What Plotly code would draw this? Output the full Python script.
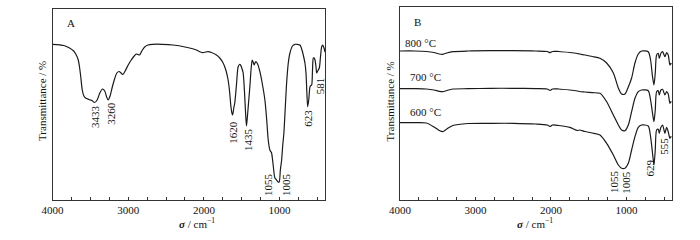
import plotly.graph_objects as go

# ---------- Panel A data (wavenumber, transmittance in arbitrary units) ----------
wn_a = [4000, 3850, 3775, 3720, 3686, 3660, 3643, 3625, 3607, 3585, 3563, 3520, 3480, 3444,
        3410, 3375, 3340, 3310, 3285, 3265, 3240, 3210, 3180, 3150, 3120, 3095, 3070, 3040,
        3000, 2960, 2920, 2893, 2870, 2849, 2820, 2783, 2740, 2673, 2550, 2408, 2250, 2100,
        2054, 2011, 1975, 1945, 1900, 1834, 1790, 1746, 1710, 1680, 1660, 1645, 1630, 1620,
        1605, 1592, 1570, 1548, 1530, 1516, 1495, 1481, 1465, 1450, 1437, 1420, 1405, 1393,
        1375, 1362, 1350, 1336, 1325, 1313, 1290, 1260, 1230, 1194, 1170, 1150, 1128, 1106,
        1085, 1062, 1040, 1020, 1005, 990, 973, 958, 943, 925, 907, 885, 863, 830, 797, 760,
        731, 700, 687, 665, 651, 640, 629, 615, 598, 586, 576, 565, 554, 543, 532, 520, 510,
        497, 475, 460, 444, 430, 413, 400]
ypx_a = [44.3, 45.5, 48, 51, 55, 60, 67, 78, 90, 96, 98, 99.5, 100.5, 102.5,
         100, 93, 89, 91, 97, 100, 96, 87, 79, 73, 71.5, 73, 74.5, 71,
         65, 60, 56, 54, 54.5, 55, 51, 47, 45, 44.3, 44.3, 45, 47, 50,
         51.7, 52.7, 52, 51.7, 52.5, 55, 58, 63, 70, 80, 92, 105, 113, 115,
         108, 103, 85, 67, 64.5, 65, 69, 73, 90, 112, 126, 112, 98, 87,
         68, 60, 62, 65, 63, 61.7, 64, 71.7, 83, 100, 120, 140, 150, 153,
         165, 178, 180, 182, 182, 170, 160, 145, 133, 108, 83, 63, 53, 46, 44.3, 44.5,
         45, 51, 55, 63, 73, 92, 106.7, 100, 86.7, 85.5, 85, 70, 58, 58, 60, 66, 73,
         71, 68, 57, 46.7, 45, 48, 52]
trans_a = [round(200 - v, 1) for v in ypx_a]

labels_a = ["3433", "3260", "1620", "1435", "1055", "1005", "623", "581"]
label_a_wn = [3439, 3230, 1619, 1417, 1153, 915, 629, 464]
label_a_t = [84, 87, 68, 60, 15, 15, 82, 114]

# ---------- Panel B data ----------
wn_b = [4000, 3800, 3650, 3550, 3480, 3433, 3380, 3300, 3100, 2800, 2500, 2200, 2050, 2011,
        1980, 1900, 1750, 1650, 1620, 1550, 1450, 1350, 1262, 1173, 1107, 1063, 1019, 975,
        931, 887, 843, 799, 711, 680, 654, 635, 618, 600, 578, 565, 543, 521, 490, 468, 446,
        424, 411, 400]
ypx_800 = [51, 51, 51.5, 52.5, 54, 54.3, 53, 51.7, 51, 50.7, 50.7, 51, 51.5, 52.7,
           51.5, 51.5, 52.5, 53.5, 54, 55, 56.5, 58.3, 63, 73, 88, 94, 94, 87,
           78, 63, 54, 51, 51.7, 60, 76.7, 85, 73.3, 55, 53.3, 58.3, 53.3, 51.7, 56.7, 52.7, 55,
           65, 63.3, 64]
ypx_700 = [88.7, 88.7, 89, 90, 91.3, 91.7, 90.5, 89, 88.7, 88.3, 88.3, 88.7, 89, 90.3,
           89, 89, 90, 91, 91.5, 92, 92.7, 93.3, 101.7, 115, 125, 130, 130.7, 125,
           111.7, 98.3, 91.7, 90, 90.7, 100, 113.3, 121.7, 110, 91.7, 90.7, 95, 90, 89.3, 95, 91.7, 94,
           103.3, 101.7, 102]
ypx_600 = [122.7, 122.7, 123, 127, 130.5, 131.7, 129, 125.5, 123.5, 123.3, 123.3, 124, 125, 126.5,
           125, 125.5, 127.3, 130.5, 130, 131.5, 133, 135, 143.3, 155, 165, 168.3, 168.3, 163.3,
           150, 136.7, 127.3, 125, 126, 136.7, 153.3, 165, 150, 130, 129.3, 133.3, 127.3, 125, 133.3, 127.3, 131.7,
           138.3, 136.7, 137]
trans_800 = [round(200 - v, 1) for v in ypx_800]
trans_700 = [round(200 - v, 1) for v in ypx_700]
trans_600 = [round(200 - v, 1) for v in ypx_600]

temp_labels = ["800 °C", "700 °C", "600 °C"]
temp_wn = [3722, 3662, 3662]
temp_t = [157, 123, 88]

labels_b = ["1055", "1005", "629", "555"]
label_b_wn = [1174, 1008, 688, 502]
label_b_t = [18.3, 18, 32.5, 53.3]

# x-axis ticks
major_ticks = [4000, 3000, 2000, 1000]
minor_ticks = [4000 - 250 * i for i in range(15)]

FONT = "Liberation Serif, Times New Roman, serif"
LINE = "#1a1a1a"
FRAME = "#333333"

fig = go.Figure()
fig.add_trace(go.Scatter(x=wn_a, y=trans_a, mode="lines", xaxis="x", yaxis="y",
                         line=dict(color=LINE, width=1.2, shape="spline", smoothing=0.7),
                         showlegend=False, hoverinfo="skip"))
for t in (trans_800, trans_700, trans_600):
    fig.add_trace(go.Scatter(x=wn_b, y=t, mode="lines", xaxis="x2", yaxis="y2",
                             line=dict(color=LINE, width=1.2, shape="spline", smoothing=0.7),
                             showlegend=False, hoverinfo="skip"))

W, H = 700, 240
def px(x):
    return x / W
def py(y):
    return 1 - y / H

xcommon = dict(range=[4000, 400], showline=True, mirror=True, linecolor=FRAME, linewidth=1.2,
               ticks="inside", ticklen=3, tickcolor=FRAME, tickmode="array",
               tickvals=major_ticks, ticktext=[str(v) for v in major_ticks],
               minor=dict(tickmode="array", tickvals=minor_ticks, ticks="inside", ticklen=3,
                          tickcolor=FRAME, showgrid=False),
               showgrid=False, zeroline=False, automargin=False,
               tickfont=dict(family=FONT, size=11, color="#111"))
ycommon = dict(showline=True, mirror=True, linecolor=FRAME, linewidth=1.2, ticks="",
               showticklabels=False, showgrid=False, zeroline=False, automargin=False)

fig.update_layout(
    width=W, height=H, margin=dict(l=0, r=0, t=0, b=0, autoexpand=False),
    paper_bgcolor="white", plot_bgcolor="white",
    font=dict(family=FONT, size=11, color="#111"),
    xaxis=dict(domain=[px(52.5), px(325)], anchor="y", **xcommon),
    yaxis=dict(domain=[py(200), py(9)], range=[0, 191], anchor="x", **ycommon),
    xaxis2=dict(domain=[px(400), px(671.7)], anchor="y2", **xcommon),
    yaxis2=dict(domain=[py(200), py(7)], range=[0, 193], anchor="x2", **ycommon),
)

C = dict(showarrow=False, xanchor="center", yanchor="middle")
ann = []
for txt, x, y in zip(labels_a, label_a_wn, label_a_t):
    ann.append(dict(text=txt, x=x, y=y, xref="x", yref="y", textangle=-90,
                    font=dict(family=FONT, size=11), **C))
for txt, x, y in zip(labels_b, label_b_wn, label_b_t):
    ann.append(dict(text=txt, x=x, y=y, xref="x2", yref="y2", textangle=-90,
                    font=dict(family=FONT, size=11), **C))
for txt, x, y in zip(temp_labels, temp_wn, temp_t):
    ann.append(dict(text=txt, x=x, y=y, xref="x2", yref="y2",
                    font=dict(family=FONT, size=11), **C))
ann.append(dict(text="A", x=3760, y=177, xref="x", yref="y",
                font=dict(family=FONT, size=11), **C))
ann.append(dict(text="B", x=3765, y=178, xref="x2", yref="y2",
                font=dict(family=FONT, size=11), **C))
for cx in (42, 389.5):
    ann.append(dict(text="Transmittance / %", x=px(cx), y=py(101), xref="paper", yref="paper",
                    textangle=-90, font=dict(family=FONT, size=11), **C))
for cx in (197, 535):
    ann.append(dict(text="<b><i>σ</i></b> / cm<sup>−1</sup>", x=px(cx), y=py(223),
                    xref="paper", yref="paper", font=dict(family=FONT, size=11), **C))
fig.update_layout(annotations=ann)

fig.write_html("out.html", config={"displayModeBar": False},
               post_script="document.body.style.margin='0';document.body.style.padding='0';")
